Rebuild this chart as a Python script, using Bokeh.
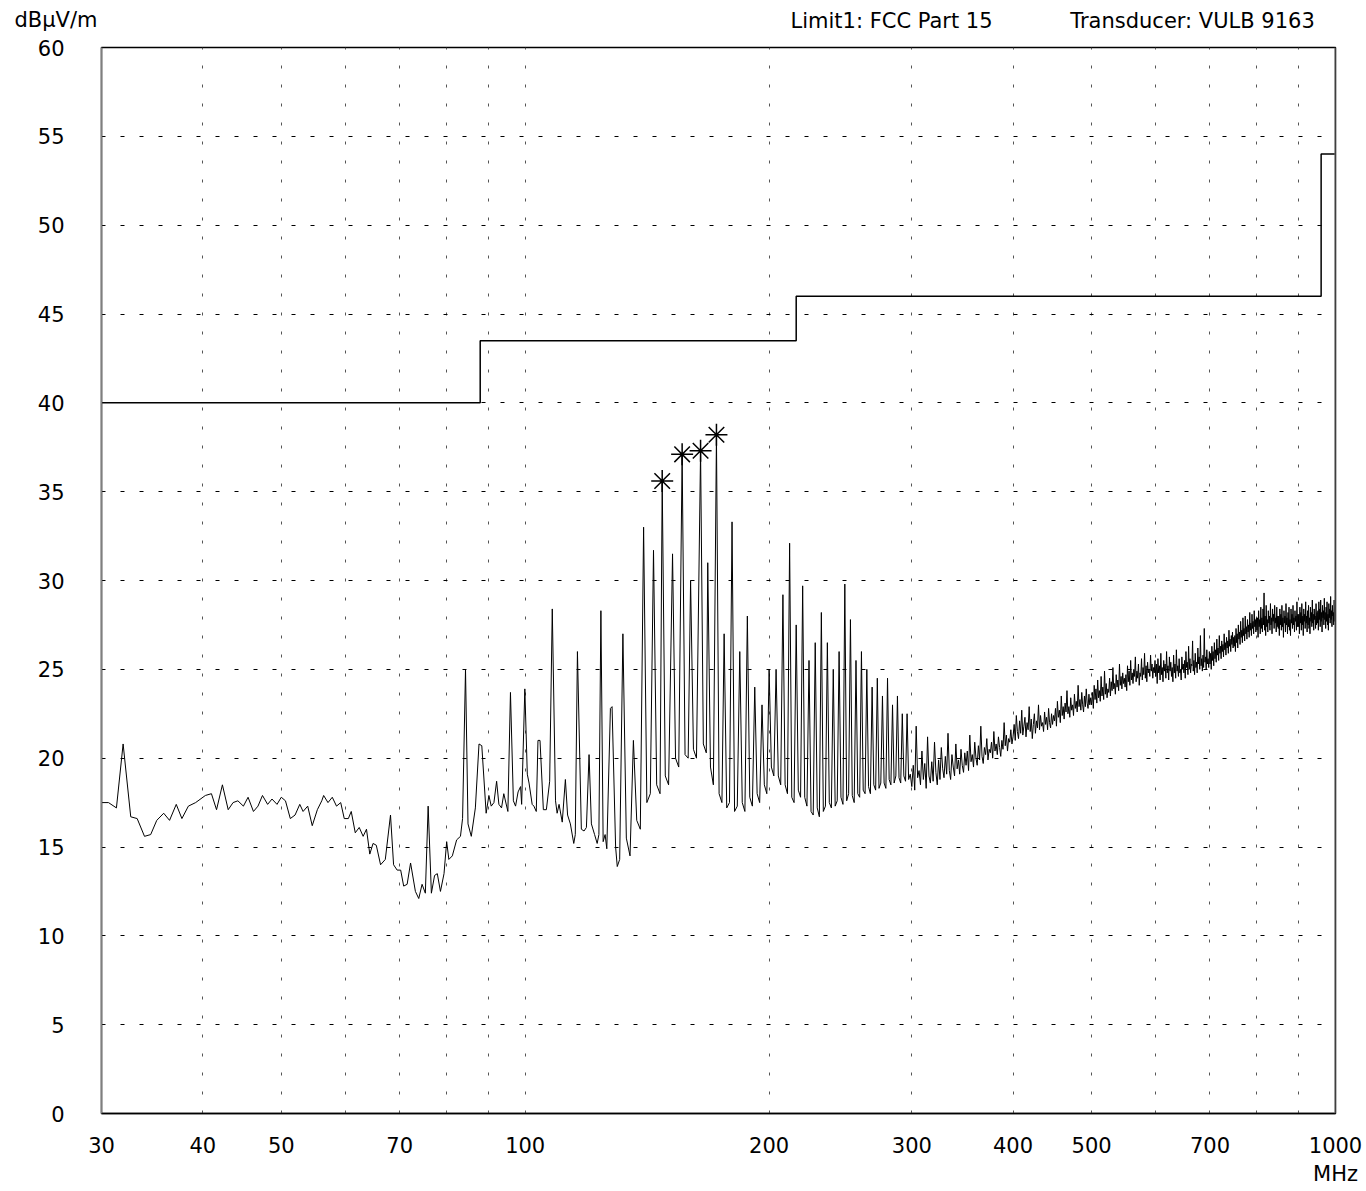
import numpy as np
from bokeh.plotting import figure
from bokeh.layouts import column
from bokeh.models import Range1d, FixedTicker, PrintfTickFormatter, Span, Label
from bokeh.embed import file_html
from bokeh.resources import INLINE

# ---------------- data ----------------
# low band trace 30 - 131 MHz (frequency MHz, level dBuV/m)
low_f = [30.0, 30.6, 31.3, 31.9, 32.6, 33.2, 33.9, 34.5, 35.1, 35.8, 36.4, 37.1, 37.7, 38.4, 39.2,
         40.3, 41.0, 41.6, 42.3, 43.0, 43.6, 44.2, 44.9, 45.5, 46.2, 46.8, 47.4, 48.1, 48.7, 49.4,
         50.0, 50.6, 51.3, 52.0, 52.7, 53.2, 53.9, 54.6, 55.4, 56.1, 56.4, 57.1, 57.8, 58.5, 59.2,
         59.8, 60.5, 61.0, 61.7, 62.4, 63.1, 63.7, 64.3, 64.9, 65.5, 66.3, 67.2, 68.2, 68.8, 69.5,
         70.2, 70.8, 71.5, 72.2, 73.2, 73.9, 74.6, 75.3, 75.9, 76.6, 77.3, 77.9, 78.6, 79.4, 80.0,
         80.5, 81.3, 82.3, 83.2, 83.7, 84.4, 85.0, 85.8, 86.8, 87.7, 88.4, 89.5, 90.2, 90.8, 91.5,
         92.2, 92.8, 93.5, 94.1, 95.2, 95.9, 96.7, 97.3, 98.0, 98.7, 99.0, 99.9, 100.6, 101.1, 102.0,
         102.5, 103.2, 103.7, 104.3, 105.3, 106.2, 107.2, 108.0, 109.0, 109.5, 110.1, 111.1, 112.1, 112.8, 113.7,
         114.8, 115.3, 116.0, 117.3, 118.2, 119.0, 119.9, 120.7, 121.8, 122.7, 123.3, 124.0, 124.8, 125.5, 126.1,
         127.4, 128.0, 129.3, 129.9, 130.8]
low_lv = [17.5, 17.5, 17.2, 20.8, 16.7, 16.6, 15.6, 15.7, 16.5, 16.9, 16.5, 17.4, 16.6, 17.3, 17.5,
          17.9, 18.0, 17.1, 18.5, 17.1, 17.5, 17.6, 17.3, 17.8, 17.0, 17.3, 17.9, 17.4, 17.7, 17.4,
          17.8, 17.6, 16.6, 16.8, 17.4, 17.0, 17.3, 16.2, 17.1, 17.6, 17.9, 17.5, 17.8, 17.3, 17.5,
          16.6, 16.6, 17.0, 15.8, 16.1, 15.6, 16.0, 14.6, 15.2, 15.1, 14.0, 14.3, 16.8, 14.0, 13.7,
          13.7, 12.8, 12.9, 14.1, 12.5, 12.1, 12.9, 12.4, 17.3, 12.4, 13.4, 13.5, 12.5, 13.5, 15.3,
          14.3, 14.5, 15.4, 15.6, 16.6, 25.0, 16.3, 15.6, 17.2, 20.8, 20.7, 16.9, 17.9, 17.3, 17.5,
          18.7, 17.4, 17.2, 18.0, 17.0, 23.7, 17.6, 17.3, 18.1, 18.4, 17.4, 23.9, 19.1, 18.6, 17.4,
          17.3, 17.0, 21.0, 21.0, 17.1, 17.1, 18.7, 28.4, 17.6, 16.9, 17.4, 16.4, 18.8, 16.8, 16.3,
          15.2, 15.7, 26.0, 16.0, 15.9, 16.1, 20.2, 16.3, 15.7, 15.2, 15.7, 28.3, 15.3, 15.7, 14.9,
          22.8, 22.9, 15.0, 13.9, 14.3]

# harmonic region 132 - 299 MHz: peak frequency, peak level, two valley levels after each peak
harm_f = [132, 136, 140, 144, 147.6, 152, 156.2, 160, 164.6, 168, 172.2, 176, 180, 184, 188, 192,
          196, 200, 204, 208, 212, 216, 220, 224, 228, 232, 236, 240, 244, 248, 252, 256, 260, 264,
          268, 272, 276, 280, 284, 288, 292, 296]
harm_pk = [27.0, 21.0, 33.0, 31.7, 35.6, 31.5, 37.1, 30.0, 37.3, 31.0, 38.2, 27.0, 33.3, 26.0, 28.0, 24.0,
           23.0, 25.0, 25.0, 29.2, 32.1, 27.5, 29.7, 25.5, 26.5, 28.2, 26.5, 25.0, 26.0, 29.8, 27.8, 25.5,
           26.0, 25.0, 24.0, 24.5, 23.5, 24.5, 23.0, 23.5, 22.5, 22.5]
val_a = [15.5, 16.5, 17.5, 18.5, 19.0, 20.0, 20.2, 20.5, 20.8, 19.5, 18.0, 17.2, 17.0, 17.5, 17.8, 18.0,
         18.5, 19.5, 19.0, 18.5, 17.8, 18.2, 17.8, 17.0, 17.2, 17.0, 17.5, 17.3, 17.8, 17.6, 17.9, 18.0,
         18.2, 18.4, 18.5, 18.3, 18.6, 18.8, 18.6, 18.9, 19.0, 18.8]
val_b = [14.5, 16.0, 18.0, 18.0, 18.5, 19.5, 20.0, 20.0, 20.3, 18.5, 17.5, 17.5, 17.3, 17.0, 17.3, 17.5,
         18.0, 19.0, 18.5, 18.0, 17.5, 17.8, 17.3, 16.8, 16.7, 17.3, 17.2, 17.6, 17.4, 18.0, 17.5, 17.8,
         18.0, 18.0, 18.2, 18.6, 18.3, 18.5, 19.0, 18.6, 18.7, 19.1]

# upper band 300 - 1000 MHz, one reading every 1.25 MHz (each row = 25 MHz)
hi_start = 300.0
hi_step = 1.25
hi_lv = [
    18.4, 19.6, 18.2, 21.8, 18.9, 19.3, 18.5, 20.4, 18.8, 19.7, 18.3, 21.2, 19.0, 18.6, 19.8, 18.7, 20.9, 19.2, 18.5, 19.9,
    18.8, 20.6, 19.4, 18.9, 20.1, 19.1, 21.4, 19.3, 18.8, 20.2, 19.5, 19.0, 20.8, 19.4, 19.9, 19.1, 20.5, 19.6, 19.2, 20.3,
    19.6, 20.4, 19.3, 21.3, 19.8, 20.2, 19.5, 20.9, 20.0, 19.6, 20.7, 19.9, 21.8, 20.1, 19.7, 20.6, 20.2, 21.1, 19.9, 20.5,
    20.3, 20.9, 20.0, 21.5, 20.4, 20.8, 20.2, 21.2, 20.6, 20.1, 21.0, 20.5, 22.0, 20.7, 21.3, 20.4, 21.1, 20.9, 21.6, 20.8,
    21.2, 21.9, 21.0, 22.4, 21.5, 21.1, 22.1, 21.4, 22.7, 21.3, 21.8, 22.3, 21.2, 22.0, 21.6, 22.9, 21.5, 22.2, 21.1, 21.9,
    22.5, 21.4, 22.1, 21.7, 23.0, 21.6, 22.4, 21.8, 22.0, 21.5, 22.6, 21.9, 22.3, 21.6, 22.8, 22.0, 21.7, 22.5, 21.9, 22.4,
    22.1, 22.8, 21.8, 23.2, 22.3, 22.7, 22.0, 23.5, 22.4, 22.9, 22.2, 23.1, 22.6, 23.8, 22.5, 22.9, 22.3, 23.4, 22.7, 23.0,
    22.4, 23.6, 22.8, 23.2, 22.6, 24.1, 22.9, 23.3, 22.7, 23.7, 23.0, 22.6, 23.5, 22.9, 23.9, 23.1, 22.8, 23.6, 23.0, 23.4,
    23.0, 23.7, 22.8, 24.1, 23.3, 23.9, 23.1, 24.4, 23.4, 23.8, 23.2, 24.6, 23.5, 24.0, 23.3, 24.9, 23.6, 24.2, 23.4, 23.9,
    23.7, 24.5, 23.5, 24.3, 23.8, 25.1, 23.9, 24.2, 23.6, 24.7, 24.0, 24.4, 23.8, 25.3, 24.1, 24.6, 23.9, 24.8, 24.2, 24.5,
    24.0, 24.7, 23.8, 25.2, 24.3, 24.9, 24.1, 25.5, 24.4, 24.8, 24.2, 25.0, 24.6, 25.7, 24.3, 24.9, 24.5, 25.3, 24.1, 24.8,
    24.6, 25.6, 24.4, 25.1, 24.7, 25.9, 24.5, 25.2, 24.3, 25.4, 24.8, 25.0, 24.6, 25.8, 24.9, 25.3, 24.5, 25.1, 24.8, 25.5,
    24.6, 25.3, 24.2, 25.6, 24.8, 25.2, 24.4, 25.9, 24.7, 25.1, 24.3, 25.5, 24.9, 25.3, 24.5, 26.0, 24.8, 25.2, 24.4, 25.7,
    24.9, 25.4, 24.6, 25.1, 24.3, 25.8, 24.8, 25.3, 24.5, 26.1, 24.9, 25.2, 24.6, 25.6, 24.8, 25.0, 24.4, 25.7, 25.0, 25.3,
    24.8, 25.5, 24.5, 26.0, 25.1, 25.4, 24.7, 26.3, 25.0, 25.6, 24.8, 25.3, 25.2, 26.6, 24.9, 25.5, 24.7, 25.9, 25.1, 25.4,
    24.8, 26.2, 25.3, 25.7, 25.0, 26.9, 25.2, 25.6, 24.9, 25.8, 25.1, 27.3, 25.4, 25.7, 25.0, 26.1, 25.3, 25.6, 25.1, 26.0,
    25.3, 25.9, 25.0, 26.3, 25.5, 26.0, 25.2, 26.5, 25.6, 26.1, 25.4, 26.7, 25.8, 26.2, 25.5, 26.9, 25.9, 26.3, 25.6, 26.6,
    26.0, 26.4, 25.7, 27.0, 26.1, 26.5, 25.8, 26.8, 26.2, 26.6, 25.9, 27.2, 26.3, 26.7, 26.0, 26.9, 26.4, 27.1, 26.2, 26.8,
    26.3, 26.9, 26.0, 27.3, 26.5, 27.0, 26.2, 27.5, 26.7, 27.1, 26.4, 27.7, 26.8, 27.2, 26.5, 27.9, 26.9, 27.3, 26.6, 28.0,
    27.0, 27.4, 26.7, 27.8, 27.1, 27.5, 26.8, 28.2, 27.2, 27.6, 26.9, 28.1, 27.3, 27.7, 27.0, 28.3, 27.4, 27.8, 27.1, 27.9,
    27.2, 27.9, 26.8, 28.3, 27.4, 27.8, 27.0, 28.5, 27.3, 27.9, 27.1, 28.4, 27.5, 29.3, 27.2, 28.0, 26.9, 28.6, 27.4, 27.8,
    27.1, 28.3, 27.6, 28.0, 27.2, 28.7, 27.5, 27.9, 27.0, 28.4, 27.7, 28.1, 27.3, 28.6, 27.6, 27.9, 27.1, 28.5, 27.4, 28.0,
    27.3, 28.0, 26.9, 28.4, 27.5, 28.1, 27.2, 28.6, 27.4, 27.9, 26.8, 28.3, 27.6, 28.0, 27.1, 28.7, 27.5, 27.9, 27.0, 28.2,
    27.4, 28.5, 27.2, 27.8, 26.9, 28.4, 27.6, 28.1, 27.3, 28.6, 27.5, 27.9, 27.1, 28.3, 27.7, 28.0, 27.2, 28.8, 27.4, 28.1,
    27.4, 28.1, 27.0, 28.5, 27.6, 28.2, 27.2, 28.7, 27.5, 28.0, 26.9, 28.4, 27.7, 28.1, 27.3, 28.8, 27.6, 28.0, 27.1, 28.3,
    27.5, 28.6, 27.3, 27.9, 27.0, 28.5, 27.7, 28.2, 27.4, 28.9, 27.6, 28.1, 27.2, 28.4, 27.8, 28.0, 27.3, 28.7, 27.5, 28.2,
    27.6, 28.3, 27.2, 28.8, 27.8, 28.4, 27.4, 28.9, 27.7, 28.2, 27.1, 28.6, 27.9, 28.3, 27.5, 29.0, 27.8, 28.2, 27.3, 28.5,
    27.7, 28.8, 27.5, 28.1, 27.2, 28.7, 27.9, 28.4, 27.6, 29.1, 27.8, 28.3, 27.4, 28.6, 28.0, 28.2, 27.5, 28.9, 27.7, 28.4,
    28.6]

# FCC Part 15 limit line
limit_f = [30, 88, 88, 216, 216, 960, 960, 1000]
limit_lv = [40, 40, 43.5, 43.5, 46, 46, 54, 54]

# marked peaks
mark_f = [147.6, 156.2, 164.6, 172.2]
mark_lv = [35.6, 37.1, 37.3, 38.2]

x_ticks = [30, 40, 50, 70, 100, 200, 300, 400, 500, 700, 1000]
x_grid = [40, 50, 60, 70, 80, 90, 100, 200, 300, 400, 500, 600, 700, 800, 900]
y_ticks = [0, 5, 10, 15, 20, 25, 30, 35, 40, 45, 50, 55, 60]
y_grid = [5, 10, 15, 20, 25, 30, 35, 40, 45, 50, 55]

x_unit = "MHz"
y_unit = "dBμV/m"
header_texts = ["Limit1: FCC Part 15", "Transducer: VULB 9163"]
header_at = [283.2, 666.1]      # centre frequency of each header text

# ---------------- assemble trace ----------------
tr_f = list(low_f)
tr_lv = list(low_lv)
for h, pk, va, vb in zip(harm_f, harm_pk, val_a, val_b):
    tr_f += [h, h + 1.3, h + 2.7]
    tr_lv += [pk, va, vb]
hi_f = [hi_start + i * hi_step for i in range(len(hi_lv))]
tr_f += hi_f
tr_lv += hi_lv

FONT = "DejaVu Sans"
FS = "21px"
W = 1364
HDR_H = 37


def style_axis(ax):
    ax.major_tick_in = 0
    ax.major_tick_out = 0
    ax.minor_tick_in = 0
    ax.minor_tick_out = 0
    ax.major_label_text_font = FONT
    ax.major_label_text_font_size = FS
    ax.major_label_text_color = "black"


# ---------------- header strip (texts above the chart) ----------------
hdr = figure(width=W, height=HDR_H, x_axis_type="log",
             x_range=Range1d(30, 1000), y_range=Range1d(0, HDR_H),
             output_backend="svg", toolbar_location=None, title=None,
             min_border_left=101, min_border_right=29, min_border_top=0, min_border_bottom=0,
             x_axis_location=None)
hdr.grid.visible = False
hdr.outline_line_color = None
hdr.background_fill_color = "white"
hdr.border_fill_color = "white"
ha = hdr.yaxis[0]
style_axis(ha)
ha.axis_line_color = None
ha.ticker = FixedTicker(ticks=[HDR_H - 19])
ha.major_label_overrides = {HDR_H - 19: y_unit}
ha.major_label_standoff = 4
for txt, xc in zip(header_texts, header_at):
    hdr.add_layout(Label(x=xc, y=HDR_H - 20, text=txt, text_align="center",
                         text_baseline="alphabetic", text_font=FONT,
                         text_font_size=FS, text_color="black"))

# ---------------- main chart ----------------
p = figure(width=W, height=1189 - HDR_H, x_axis_type="log",
           x_range=Range1d(30, 1000), y_range=Range1d(0, 60),
           output_backend="svg", toolbar_location=None, title=None,
           min_border_left=101, min_border_right=29, min_border_top=47 - HDR_H,
           min_border_bottom=76)
p.background_fill_color = "white"
p.border_fill_color = "white"
p.outline_line_color = "black"
p.outline_line_width = 1.5

# grids
p.xgrid.ticker = FixedTicker(ticks=x_grid)
p.xgrid.grid_line_color = "#555555"
p.xgrid.grid_line_dash = "3 16"
p.xgrid.grid_line_width = 1
p.ygrid.ticker = FixedTicker(ticks=y_grid)
p.ygrid.grid_line_color = "black"
p.ygrid.grid_line_dash = "4 15"
p.ygrid.grid_line_width = 1

xa = p.xaxis[0]
ya = p.yaxis[0]
xa.ticker = FixedTicker(ticks=x_ticks)
xa.formatter = PrintfTickFormatter(format="%d")
xa.major_label_overrides = {1000: "1000\n" + x_unit}
ya.ticker = FixedTicker(ticks=y_ticks)
style_axis(xa)
style_axis(ya)
xa.axis_line_color = "black"
xa.axis_line_width = 1.5
xa.major_label_standoff = 20
ya.axis_line_color = "#7f7f7f"
ya.axis_line_width = 1.5
ya.major_label_standoff = 37

p.add_layout(Span(location=1000, dimension="height", line_color="#7f7f7f", line_width=2))

# limit and trace
p.line(limit_f, limit_lv, line_color="black", line_width=1.5)
p.line(tr_f, tr_lv, line_color="black", line_width=1)
p.scatter(mark_f, mark_lv, marker="asterisk", size=22, line_color="black", line_width=1.5)

layout = column(hdr, p, spacing=0)
open("out.html", "w").write(file_html(layout, INLINE))
